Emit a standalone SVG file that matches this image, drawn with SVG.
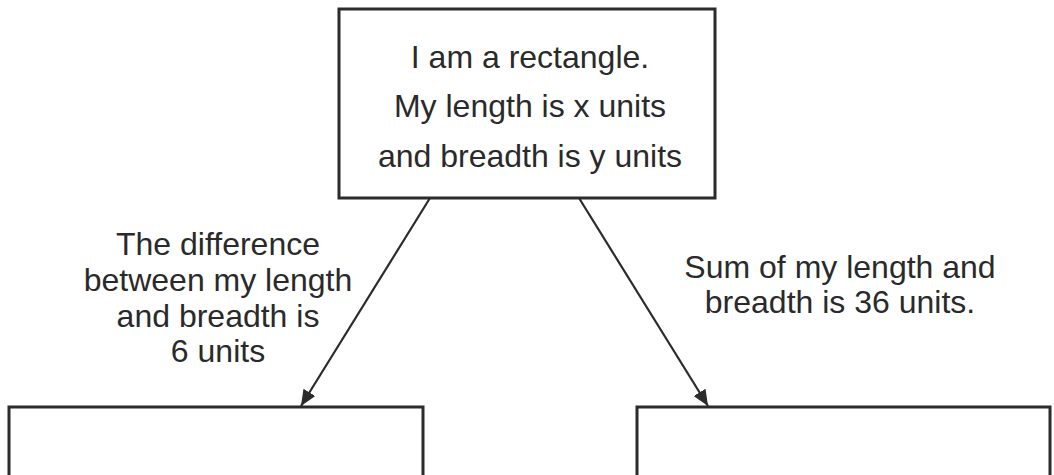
<svg xmlns="http://www.w3.org/2000/svg" width="1054" height="475" viewBox="0 0 1054 475">
  <style>
    .box { fill: #ffffff; stroke: #2b2b2b; stroke-width: 3; }
    .edge { fill: none; stroke: #2b2b2b; stroke-width: 2.2; }
    .txt { font-family: "Liberation Sans", Arial, sans-serif; font-size: 32px; fill: #2a2a2a; text-anchor: middle; }
  </style>
  <defs>
    <marker id="arrow" viewBox="0 0 16 14" refX="16" refY="7" markerWidth="16" markerHeight="14" markerUnits="userSpaceOnUse" orient="auto">
      <path d="M0,0 L16,7 L0,14 z" fill="#2b2b2b"/>
    </marker>
  </defs>
  <rect width="1054" height="475" fill="#ffffff"/>

  <g id="rectangle">
    <rect class="box" x="339" y="9" width="376" height="189"/>
    <text class="txt" x="530" y="68">I am a rectangle.</text>
    <text class="txt" x="530" y="117">My length is x units</text>
    <text class="txt" x="530" y="167">and breadth is y units</text>
  </g>

  <g id="left-box">
    <rect class="box" x="9" y="407" width="414" height="80"/>
  </g>

  <g id="right-box">
    <rect class="box" x="637" y="407" width="413" height="80"/>
  </g>

  <g id="connectors">
    <line class="edge" x1="430" y1="198" x2="301" y2="406" marker-end="url(#arrow)"/>
    <line class="edge" x1="579" y1="198" x2="708" y2="406" marker-end="url(#arrow)"/>
    <text class="txt" x="218" y="255">The difference</text>
    <text class="txt" x="218" y="291">between my length</text>
    <text class="txt" x="218" y="327">and breadth is</text>
    <text class="txt" x="218" y="362">6 units</text>
    <text class="txt" x="840" y="278">Sum of my length and</text>
    <text class="txt" x="840" y="313">breadth is 36 units.</text>
  </g>
</svg>
